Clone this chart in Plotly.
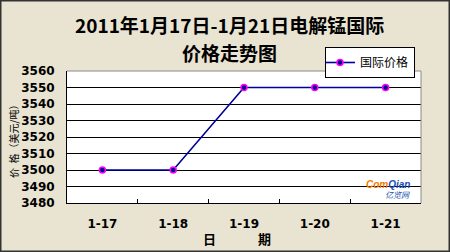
import plotly.graph_objects as go

dates = ["1-17", "1-18", "1-19", "1-20", "1-21"]
prices = [3500, 3500, 3550, 3550, 3550]
series_name = "国际价格"
y_ticks = [3480, 3490, 3500, 3510, 3520, 3530, 3540, 3550, 3560]
title_lines = ["2011年1月17日-1月21日电解锰国际", "价格走势图"]

cjk = "Noto Sans CJK SC"
num = "DejaVu Sans"

W, H = 450, 252
L, R, T, B = 67, 29, 71, 49
PW, PH = W - L - R, H - T - B

def px_x(x):
    return (x - L) / PW

def px_y(y):
    return (H - B - y) / PH

fig = go.Figure()
fig.add_trace(go.Scatter(
    x=dates, y=prices, mode="lines+markers", name=series_name,
    line=dict(color="#00009c", width=1.6),
    marker=dict(symbol="circle", size=6, color="#000090",
                line=dict(color="#ff00ff", width=1.5)),
))

fig.update_layout(
    width=W, height=H,
    margin=dict(l=L, r=R, t=T, b=B),
    paper_bgcolor="#e9e3d1",
    plot_bgcolor="#ffffff",
    showlegend=True,
    legend=dict(x=px_x(325), xanchor="left", y=px_y(47), yanchor="top",
                bgcolor="#ffffff", bordercolor="#000000", borderwidth=1,
                font=dict(family=cjk, size=12, color="#000000"),
                itemwidth=30, tracegroupgap=0, indentation=-6),
    xaxis=dict(type="category", range=[-0.5, len(dates) - 0.5],
               showgrid=False, showline=True,
               linecolor="#000000", linewidth=1, ticks="inside",
               tickson="boundaries", ticklen=4, tickcolor="#000000",
               ticklabelstandoff=10,
               tickfont=dict(family=num, size=12, color="#000000", weight="bold"),
               fixedrange=True, zeroline=False),
    yaxis=dict(range=[3480, 3560], tickvals=y_ticks, showgrid=True,
               gridcolor="#000000", gridwidth=1, showline=True,
               linecolor="#000000", linewidth=1, ticks="",
               ticklabelstandoff=9,
               tickfont=dict(family=num, size=12, color="#000000", weight="bold"),
               zeroline=False),
)

# title (two centred lines)
fig.add_annotation(xref="paper", yref="paper", x=px_x(229), y=px_y(24),
                   xanchor="center", yanchor="middle", showarrow=False,
                   text="<b>" + title_lines[0] + "</b>",
                   font=dict(family=cjk, size=19, color="#000000"))
fig.add_annotation(xref="paper", yref="paper", x=px_x(229), y=px_y(53),
                   xanchor="center", yanchor="middle", showarrow=False,
                   text="<b>" + title_lines[1] + "</b>",
                   font=dict(family=cjk, size=19, color="#000000"))
# axis titles
fig.add_annotation(xref="paper", yref="paper", x=px_x(209), y=px_y(238),
                   xanchor="center", yanchor="middle", showarrow=False,
                   text="<b>日</b>", font=dict(family=cjk, size=13, color="#000000"))
fig.add_annotation(xref="paper", yref="paper", x=px_x(264), y=px_y(238),
                   xanchor="center", yanchor="middle", showarrow=False,
                   text="<b>期</b>", font=dict(family=cjk, size=13, color="#000000"))
fig.add_annotation(xref="paper", yref="paper", x=px_x(13), y=px_y(139),
                   xanchor="center", yanchor="middle", showarrow=False,
                   textangle=-90, text="价  格（美元/吨）",
                   font=dict(family=cjk, size=10, color="#000000"))

# gray top/right plot border
fig.add_shape(type="line", xref="paper", yref="paper", x0=0, x1=1, y0=1, y1=1,
              line=dict(color="#8a8a8a", width=1))
fig.add_shape(type="line", xref="paper", yref="paper", x0=1, x1=1, y0=0, y1=1,
              line=dict(color="#8a8a8a", width=1))
# outer frame
fig.add_shape(type="rect", xref="paper", yref="paper",
              x0=px_x(0.5), x1=px_x(W - 0.5), y0=px_y(H - 0.5), y1=px_y(0.5),
              line=dict(color="#333333", width=2))
# watermark
fig.add_annotation(xref="paper", yref="paper", x=px_x(412), y=px_y(184),
                   xanchor="right", yanchor="middle", showarrow=False,
                   text="<b><i>Com</i></b><b><i><span style='color:#2050b0'>Qian</span></i></b>",
                   font=dict(family="Liberation Sans", size=10, color="#f07800"))
fig.add_annotation(xref="paper", yref="paper", x=px_x(412), y=px_y(194),
                   xanchor="right", yanchor="middle", showarrow=False,
                   text="<i>亿览网</i>",
                   font=dict(family=cjk, size=8, color="#2050b0"))

fig.write_html("out.html")
